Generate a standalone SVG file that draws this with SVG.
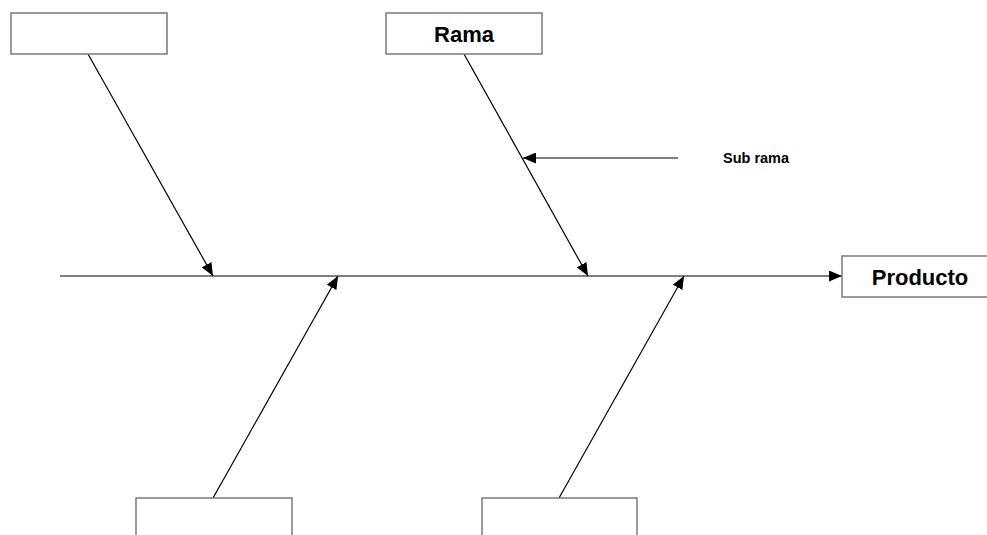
<svg xmlns="http://www.w3.org/2000/svg" width="987" height="535" viewBox="0 0 987 535">
<defs>
<style>
.box{fill:#fff;stroke:#7a7a7a;stroke-width:1.5}
.ln{stroke:#000;stroke-width:1.2;fill:none}
.lbl{font-family:"Liberation Sans","Open Sans",Arial,sans-serif;font-weight:bold;fill:#000}
</style>
<marker id="ah" viewBox="0 0 13 11" refX="13" refY="5.5" markerWidth="13" markerHeight="11" markerUnits="userSpaceOnUse" orient="auto">
<path d="M0,0 L13,5.5 L0,11 Z" fill="#000"/>
</marker>
</defs>
<rect width="987" height="535" fill="#fff"/>
<g id="connectors">
<line class="ln" x1="60" y1="276" x2="842" y2="276" marker-end="url(#ah)"/>
<line class="ln" x1="88" y1="54" x2="213" y2="276" marker-end="url(#ah)"/>
<line class="ln" x1="464" y1="54" x2="588" y2="276" marker-end="url(#ah)"/>
<line class="ln" x1="213" y1="498" x2="338" y2="276" marker-end="url(#ah)"/>
<line class="ln" x1="559" y1="498" x2="684" y2="276" marker-end="url(#ah)"/>
<line class="ln" x1="678" y1="158" x2="523" y2="158" marker-end="url(#ah)"/>
</g>
<g id="node-top-left"><rect class="box" x="11" y="13" width="156" height="41"/></g>
<g id="node-rama"><rect class="box" x="386" y="13" width="156" height="41"/><text class="lbl" x="464" y="42" font-size="22" text-anchor="middle">Rama</text></g>
<g id="node-subrama"><text class="lbl" x="723" y="163" font-size="14.5">Sub rama</text></g>
<g id="node-producto"><rect class="box" x="842" y="256" width="160" height="41"/><text class="lbl" x="920" y="285" font-size="22" text-anchor="middle">Producto</text></g>
<g id="node-bottom-left"><rect class="box" x="136" y="498" width="156" height="50"/></g>
<g id="node-bottom-right"><rect class="box" x="482" y="498" width="155" height="50"/></g>
</svg>
